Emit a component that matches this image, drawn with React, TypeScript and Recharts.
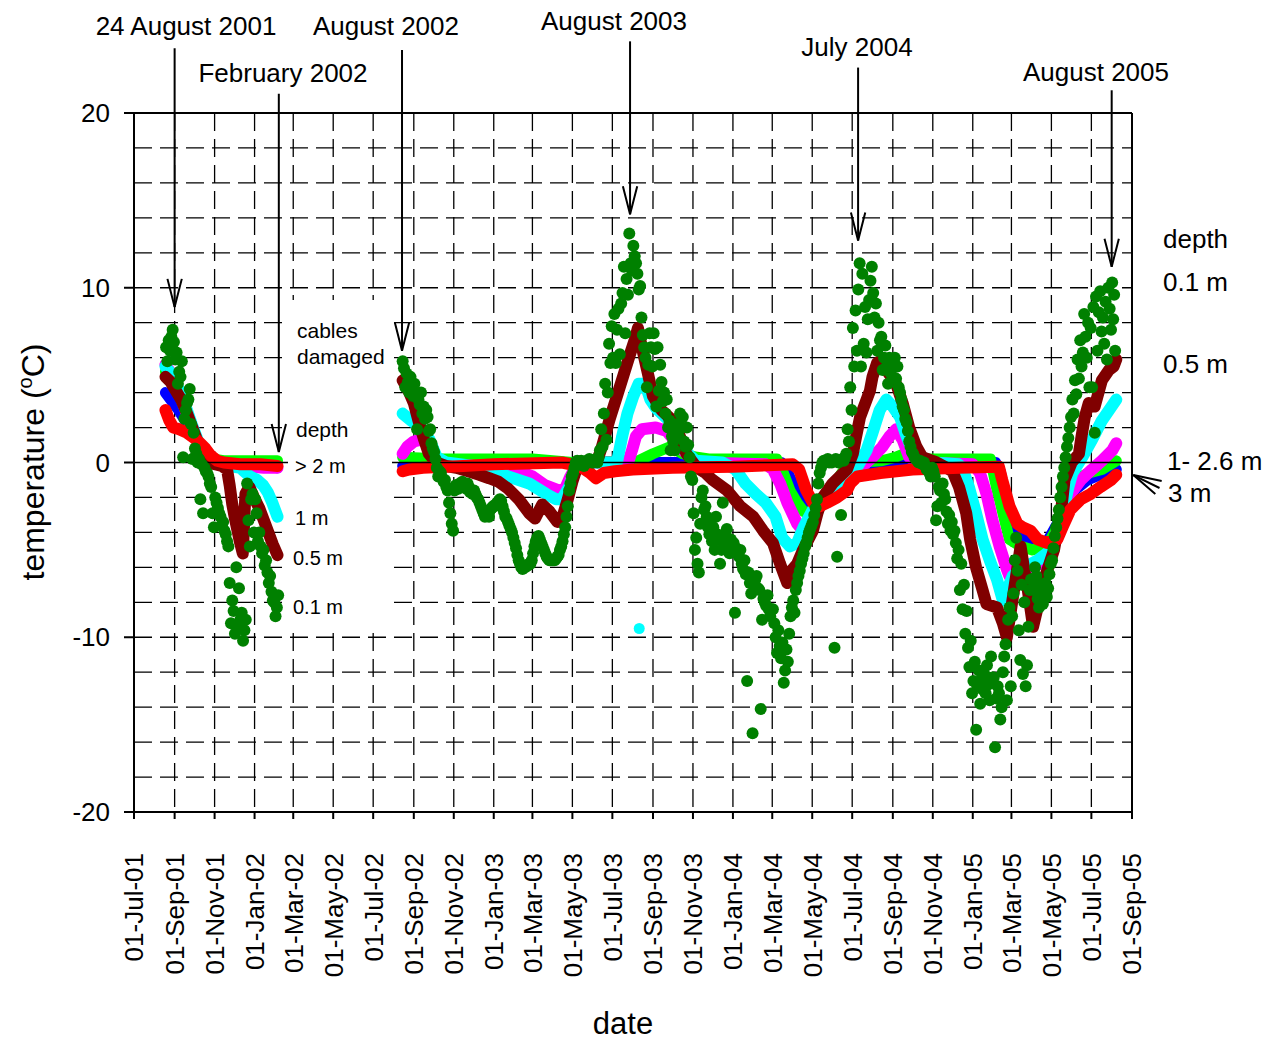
import React from "react";
import {
  ComposedChart,
  Line,
  Scatter,
  XAxis,
  YAxis,
  CartesianGrid,
  ReferenceLine,
} from "recharts";

const FONT = '"Liberation Sans", Arial, Helvetica, sans-serif';
const WIDTH = 1267;
const HEIGHT = 1041;

const ORIGIN = Date.UTC(2001, 6, 1);
const MS_PER_DAY = 86400000;
const MONTH_NAMES = ["Jan", "Feb", "Mar", "Apr", "May", "Jun", "Jul", "Aug", "Sep", "Oct", "Nov", "Dec"];

// x axis: first of every second month
const DATE_TICKS = [
  "2001-07-01", "2001-09-01", "2001-11-01", "2002-01-01", "2002-03-01", "2002-05-01",
  "2002-07-01", "2002-09-01", "2002-11-01", "2003-01-01", "2003-03-01", "2003-05-01",
  "2003-07-01", "2003-09-01", "2003-11-01", "2004-01-01", "2004-03-01", "2004-05-01",
  "2004-07-01", "2004-09-01", "2004-11-01", "2005-01-01", "2005-03-01", "2005-05-01",
  "2005-07-01", "2005-09-01",
];
const TEMP_TICKS = [-20, -10, 0, 10, 20];
const GRID_TEMPS = [-18, -16, -14, -12, -10, -8, -6, -4, -2, 2, 4, 6, 8, 10, 12, 14, 16, 18];

type Reading = [string, number];
// 0.1 m sensor: per month, readings spread evenly over the month (optional first/last day)
type MonthRun = [string, number[], number?, number?];

const DEPTH_01: MonthRun[] = [
  ["2001-08", [6.6, 5.8, 7.0, 6.4, 7.2, 7.6, 6.9], 18],
  ["2001-09", [5.9, 6.3, 4.5, 5.2, 4.9, 5.8, 0.3, 2.5, 3.0, 3.4, 3.6, 4.2, 2.2, 0.2, 1.7]],
  ["2001-10", [0.8, 0.5, 0.0, 0.2, -2.1, -0.1, -2.9, -0.3, -0.5, -0.6, -0.8, -1.2, -1.4, -2.9, -3.7]],
  ["2001-11", [-2.0, -2.3, -2.6, -2.9, -3.1, -3.6, -3.4, -3.9, -4.1, -4.5, -4.8, -6.9, -9.2, -7.9, -8.5]],
  ["2001-12", [-9.8, -6.0, -9.5, -7.2, -9.0, -8.6, -10.2, -9.6, -9.0, -1.2, -3.3, -4.8, -2.1, -1.8, -4.0]],
  ["2002-01", [-2.1, -2.9, -4.5, -4.0, -4.8, -5.2, -5.0, -5.9, -5.6, -6.3, -6.9, -6.5, -7.4, -7.9, -8.0]],
  ["2002-02", [-8.8, -8.3, -7.6], 1, 6],
  ["2002-08", [5.8, 5.4, 4.3, 5.1, 4.6, 4.0, 4.9, 4.5, 3.8], 14],
  ["2002-09", [4.5, 3.9, 1.9, 3.6, 3.3, 4.0, 2.8, 3.2, 2.5, 3.0, 2.6, 1.8, 1.9, 1.1, 0.8]],
  ["2002-10", [0.6, 0.2, -0.3, -0.8, -0.5, -0.6, -0.9, -1.1, -1.0, -1.4, -1.6, -2.3, -2.9, -3.5, -3.9]],
  ["2002-11", [-1.6, -1.3, -1.4, -1.5, -1.2, -1.3, -1.1, -1.2, -1.4, -1.5, -1.2, -1.4, -1.7, -1.6, -1.8]],
  ["2002-12", [-1.6, -1.8, -2.0, -2.1, -2.3, -2.5, -2.7, -2.9, -3.1, -3.0, -2.8, -3.1, -2.7, -2.6, -2.5]],
  ["2003-01", [-2.5, -2.4, -2.3, -2.2, -2.1, -2.2, -2.5, -2.8, -3.1, -3.2, -3.4, -3.6, -3.8, -4.0, -4.3]],
  ["2003-02", [-4.6, -4.9, -5.3, -5.6, -5.8, -6.0, -6.1, -6.0, -6.0, -5.9, -5.9, -5.8, -5.8, -5.6]],
  ["2003-03", [-5.2, -4.8, -4.5, -4.3, -4.2, -4.4, -4.6, -4.8, -5.0, -5.2, -5.4, -5.5, -5.6, -5.6, -5.6]],
  ["2003-04", [-5.6, -5.6, -5.5, -5.4, -5.3, -5.0, -4.8, -4.5, -4.1, -3.7, -3.1, -2.5, -1.6, -1.2, -0.8]],
  ["2003-05", [-0.6, -0.3, 0.0, 0.1, -0.1, 0.0, 0.1, 0.0, -0.2, 0.0, 0.1, 0.0, 0.2, 0.1, 0.0]],
  ["2003-06", [0.0, 0.1, 0.2, 0.0, 0.3, 0.7, 1.9, 0.9, 2.8, 4.5, 1.3, 4.0, 6.8, 5.7, 7.8]],
  ["2003-07", [6.0, 8.5, 5.7, 7.6, 8.8, 6.2, 9.1, 9.7, 11.2, 7.4, 10.5, 9.6, 13.1, 11.4, 11.0]],
  ["2003-08", [12.4, 11.8, 11.4, 10.8, 9.9, 10.1, 8.3, 7.3, 6.6, 6.0, 4.3, 5.6, 7.4, 6.6, 5.5]],
  ["2003-09", [7.4, 6.5, 3.2, 6.6, 4.1, 5.6, 4.6, 3.5, 4.0, 2.8, 3.6, 2.0, 2.4, 0.7, 1.5]],
  ["2003-10", [1.2, 0.7, 1.8, 2.2, 1.5, 2.8, 2.0, 2.6, 1.2, 0.9, 2.0, 1.0, 0.3, -0.8, -1.0]],
  ["2003-11", [-2.9, -5.0, -4.3, -5.8, -6.3, -3.5, -2.0, -1.6, -2.7, -2.5, -3.1, -3.7, -4.1, -3.3, -4.5]],
  ["2003-12", [-3.7, -5.0, -3.1, -4.1, -4.4, -5.8, -5.0, -2.3, -4.6, -4.1, -3.8, -4.6, -5.2, -4.4, -5.0]],
  ["2004-01", [-4.6, -8.6, -4.9, -5.2, -5.4, -5.0, -5.8, -6.1, -5.6, -6.4, -12.5, -6.3, -6.9, -7.5, -15.5]],
  ["2004-02", [-7.0, -6.7, -6.5, -7.2, -7.3, -14.1, -9.0, -7.8, -8.0, -8.2, -7.6, -8.4, -8.8, -8.4]],
  ["2004-03", [-8.4, -9.2, -10.0, -10.9, -9.6, -10.5, -11.2, -10.3, -12.6, -11.9, -10.7, -11.4, -9.8, -8.8, -8.3]],
  ["2004-04", [-7.9, -8.6, -7.3, -6.9, -6.5, -6.2, -5.8, -5.5, -5.2, -4.8, -4.6, -4.3, -4.0, -3.8, -3.6]],
  ["2004-05", [-3.4, -3.0, -2.6, -2.1, -1.2, -0.6, -0.3, 0.0, 0.1, 0.0, 0.1, 0.2, 0.0, 0.1, 0.0]],
  ["2004-06", [0.1, -10.6, 0.2, -5.4, 0.0, 0.1, -3.0, 0.2, 0.1, 0.3, 0.5, 1.9, 1.2, 4.3, 3.0]],
  ["2004-07", [7.7, 5.5, 8.7, 6.4, 9.9, 11.4, 5.5, 10.8, 6.8, 8.9, 6.3, 8.2, 9.3, 10.4, 11.2]],
  ["2004-08", [9.7, 8.3, 9.1, 6.4, 8.0, 7.0, 7.2, 5.3, 6.0, 6.7, 5.5, 4.5, 6.0, 5.1, 5.5]],
  ["2004-09", [5.8, 6.0, 4.8, 5.5, 4.3, 4.0, 3.6, 3.2, 3.0, 2.5, 2.3, 1.8, 1.2, 0.9, 0.6]],
  ["2004-10", [0.5, 0.3, 0.2, 0.1, 0.0, 0.1, 0.0, -0.1, 0.0, -0.2, -0.4, -0.3, -0.6, -0.8, -0.3]],
  ["2004-11", [-0.5, -0.8, -3.3, -2.5, -1.4, -1.6, -2.3, -1.2, -1.8, -2.1, -2.8, -3.5, -3.0, -3.9, -3.4]],
  ["2004-12", [-4.1, -3.9, -4.6, -5.5, -5.0, -7.3, -5.8, -8.4, -7.0, -9.8, -8.5, -10.6, -11.7, -10.2, -13.2]],
  ["2005-01", [-12.5, -11.4, -15.3, -12.8, -11.9, -13.8, -12.4, -13.0, -12.1, -13.2, -11.6, -12.7, -13.6, -11.1, -12.3]],
  ["2005-02", [-12.3, -16.3, -13.5, -12.8, -13.2, -14.7, -14.0, -12.0, -11.1, -10.4, -13.6, -9.0, -8.3, -12.8]],
  ["2005-03", [-8.8, -7.5, -5.6, -4.3, -6.2, -9.6, -11.3, -7.0, -12.1, -8.0, -12.8, -11.6, -9.4, -7.3, -6.7]],
  ["2005-04", [-6.7, -7.3, -6.0, -6.5, -7.8, -8.3, -7.0, -7.6, -8.1, -7.5, -6.9, -7.7, -7.2, -6.4, -5.8]],
  ["2005-05", [-5.6, -4.9, -4.2, -3.7, -3.2, -2.7, -2.0, -1.4, -0.8, -0.3, 0.3, 0.9, 1.4, 2.0, 2.6]],
  ["2005-06", [3.6, 2.8, 4.7, 3.9, 5.9, 4.8, 7.0, 5.5, 6.3, 8.5, 7.2, 6.0, 8.0, 4.3, 7.7]],
  ["2005-07", [4.3, 8.9, 1.7, 9.5, 6.4, 8.6, 9.8, 7.5, 8.3, 6.8, 9.2, 5.9, 10.0, 8.8, 7.6]],
  ["2005-08", [10.3, 8.2, 9.6, 6.4], 1, 6],
];

const DEPTH_05_2001: Reading[] = [
  ["2001-08-18", 4.9], ["2001-08-26", 4.6], ["2001-09-03", 4.1], ["2001-09-11", 3.6], ["2001-09-19", 2.9],
  ["2001-09-27", 2.1], ["2001-10-05", 1.3], ["2001-10-12", 0.5], ["2001-10-20", 0.0], ["2001-11-01", -0.1],
  ["2001-11-12", -0.2], ["2001-11-20", -0.4], ["2001-11-24", -1.3], ["2001-11-28", -2.4], ["2001-12-02", -3.2],
  ["2001-12-06", -3.9], ["2001-12-10", -4.6], ["2001-12-14", -5.2], ["2001-12-18", -1.8], ["2001-12-24", -1.4],
  ["2001-12-31", -2.0], ["2002-01-08", -2.6], ["2002-01-15", -3.3], ["2002-01-22", -4.0], ["2002-01-29", -4.7],
  ["2002-02-05", -5.3],
];
const DEPTH_05_2002: Reading[] = [
  ["2002-08-15", 4.7], ["2002-08-24", 4.1], ["2002-09-01", 3.4], ["2002-09-08", 2.4], ["2002-09-16", 1.4],
  ["2002-09-24", 0.5], ["2002-10-05", 0.0], ["2002-10-20", -0.2], ["2002-11-05", -0.3], ["2002-11-23", -0.5],
  ["2002-12-10", -0.7], ["2002-12-25", -0.9], ["2003-01-08", -1.1], ["2003-01-23", -1.5], ["2003-02-08", -2.1],
  ["2003-02-24", -2.9], ["2003-03-05", -3.2], ["2003-03-16", -2.4], ["2003-03-27", -2.8], ["2003-04-08", -3.4],
  ["2003-04-16", -3.1], ["2003-04-24", -2.1], ["2003-05-01", -1.1], ["2003-05-08", -0.3], ["2003-05-20", 0.0],
  ["2003-06-08", 0.1], ["2003-06-15", 0.9], ["2003-06-27", 2.5], ["2003-07-08", 3.8], ["2003-07-18", 5.0],
  ["2003-07-28", 6.2], ["2003-08-04", 7.0], ["2003-08-09", 7.7], ["2003-08-15", 6.6], ["2003-08-23", 5.3],
  ["2003-09-01", 3.8], ["2003-09-14", 3.0], ["2003-10-01", 2.4], ["2003-10-12", 1.5], ["2003-10-22", 0.5],
  ["2003-11-07", -0.3], ["2003-11-20", -0.6], ["2003-12-01", -1.0], ["2003-12-23", -1.6], ["2004-01-12", -2.5],
  ["2004-02-01", -3.1], ["2004-02-16", -3.9], ["2004-03-02", -4.6], ["2004-03-13", -5.8], ["2004-03-24", -6.9],
  ["2004-04-01", -6.1], ["2004-04-08", -5.8], ["2004-04-17", -5.0], ["2004-05-02", -3.9], ["2004-05-09", -2.9],
  ["2004-05-17", -2.0], ["2004-06-01", -1.2], ["2004-06-23", -0.4], ["2004-07-02", 0.5], ["2004-07-06", 1.3],
  ["2004-07-13", 2.6], ["2004-07-21", 3.4], ["2004-07-28", 4.1], ["2004-08-01", 4.9], ["2004-08-08", 5.7],
  ["2004-08-16", 5.9], ["2004-08-22", 5.3], ["2004-09-06", 4.5], ["2004-09-16", 3.4], ["2004-09-26", 2.0],
  ["2004-10-07", 0.9], ["2004-10-16", 0.3], ["2004-11-07", 0.0], ["2004-11-22", -0.3], ["2004-12-01", -0.5],
  ["2004-12-11", -1.4], ["2004-12-22", -2.9], ["2004-12-28", -4.4], ["2005-01-06", -6.0], ["2005-01-16", -7.3],
  ["2005-01-22", -8.1], ["2005-02-07", -8.3], ["2005-02-16", -9.2], ["2005-02-22", -10.0], ["2005-03-15", -4.8],
  ["2005-03-20", -6.0], ["2005-03-26", -7.3], ["2005-03-31", -8.6], ["2005-04-03", -9.4], ["2005-04-20", -6.7],
  ["2005-05-05", -5.0], ["2005-05-16", -2.7], ["2005-05-21", -1.0], ["2005-06-01", 0.0], ["2005-06-12", 0.5],
  ["2005-06-16", 1.5], ["2005-06-21", 2.6], ["2005-06-27", 3.4], ["2005-07-06", 3.2], ["2005-07-17", 4.7],
  ["2005-07-28", 5.3], ["2005-08-04", 5.5], ["2005-08-08", 5.9],
];

const DEPTH_1_2001: Reading[] = [
  ["2001-08-18", 5.5], ["2001-08-28", 5.0], ["2001-09-07", 4.2], ["2001-09-17", 3.3], ["2001-09-27", 2.2],
  ["2001-10-07", 1.2], ["2001-10-17", 0.5], ["2001-10-28", 0.1], ["2001-11-10", -0.1], ["2001-11-25", -0.2],
  ["2001-12-10", -0.3], ["2001-12-25", -0.8], ["2002-01-05", -1.0], ["2002-01-14", -1.3], ["2002-01-21", -1.7],
  ["2002-01-28", -2.3], ["2002-02-05", -3.1],
];
const DEPTH_1_2002: Reading[] = [
  ["2002-08-15", 2.8], ["2002-08-28", 2.4], ["2002-09-12", 2.0], ["2002-09-25", 1.3], ["2002-10-06", 0.3],
  ["2002-10-20", 0.0], ["2002-11-10", -0.1], ["2002-12-01", -0.2], ["2002-12-25", -0.4], ["2003-01-23", -0.8],
  ["2003-02-24", -1.2], ["2003-03-22", -1.8], ["2003-04-06", -2.1], ["2003-04-15", -2.1], ["2003-04-26", -1.4],
  ["2003-05-06", -0.4], ["2003-05-20", 0.0], ["2003-07-08", 0.0], ["2003-07-16", 1.5], ["2003-07-24", 2.8],
  ["2003-08-02", 3.8], ["2003-08-10", 4.5], ["2003-08-20", 4.5], ["2003-08-28", 3.6], ["2003-09-06", 3.1],
  ["2003-09-20", 2.6], ["2003-10-01", 2.2], ["2003-10-10", 1.3], ["2003-10-22", 0.6], ["2003-11-05", 0.1],
  ["2003-12-16", 0.0], ["2004-01-05", -0.4], ["2004-01-20", -1.2], ["2004-02-05", -1.8], ["2004-02-20", -2.3],
  ["2004-03-06", -3.1], ["2004-03-16", -4.3], ["2004-03-28", -4.8], ["2004-04-08", -4.6], ["2004-04-18", -3.7],
  ["2004-05-02", -2.7], ["2004-05-17", -2.0], ["2004-06-13", -1.6], ["2004-06-28", -0.8], ["2004-07-08", -0.3],
  ["2004-07-23", 0.7], ["2004-08-01", 1.7], ["2004-08-12", 3.0], ["2004-08-22", 3.6], ["2004-09-01", 3.2],
  ["2004-09-12", 2.6], ["2004-09-22", 1.5], ["2004-10-01", 0.7], ["2004-10-16", 0.3], ["2004-11-01", 0.0],
  ["2004-12-10", -0.1], ["2004-12-16", -0.3], ["2004-12-26", -1.4], ["2005-01-06", -2.9], ["2005-01-16", -4.4],
  ["2005-01-27", -5.6], ["2005-02-07", -6.7], ["2005-02-16", -7.9], ["2005-03-03", -6.5], ["2005-03-15", -6.1],
  ["2005-04-10", -5.6], ["2005-05-01", -5.0], ["2005-05-16", -3.3], ["2005-05-27", -1.4], ["2005-06-02", -0.6],
  ["2005-06-17", 0.3], ["2005-07-02", 1.3], ["2005-07-17", 2.4], ["2005-07-28", 3.0], ["2005-08-08", 3.6],
];
const DEPTH_1_STRAY: Reading[] = [["2003-08-11", -9.5]];

const DEPTH_15_2001: Reading[] = [
  ["2001-08-18", 5.6], ["2001-08-28", 5.0], ["2001-09-07", 4.1], ["2001-09-17", 3.1], ["2001-09-27", 2.0],
  ["2001-10-07", 1.1], ["2001-10-17", 0.4], ["2001-10-28", 0.0], ["2001-11-15", -0.1], ["2001-12-15", -0.2],
  ["2002-01-15", -0.3], ["2002-02-05", -0.3],
];
const DEPTH_15_2002: Reading[] = [
  ["2002-08-15", 0.5], ["2002-08-22", 0.9], ["2002-09-01", 1.2], ["2002-09-12", 1.3], ["2002-09-22", 1.1],
  ["2002-09-30", 0.3], ["2002-10-10", 0.0], ["2002-11-01", -0.1], ["2002-12-01", -0.2], ["2003-01-15", -0.3],
  ["2003-02-15", -0.6], ["2003-03-01", -0.8], ["2003-03-20", -1.3], ["2003-04-10", -1.6], ["2003-04-20", -1.5],
  ["2003-04-28", -0.8], ["2003-05-08", -0.1], ["2003-05-20", 0.0], ["2003-07-25", 0.0], ["2003-07-31", 0.7],
  ["2003-08-06", 1.5], ["2003-08-15", 1.9], ["2003-09-05", 2.0], ["2003-09-22", 1.8], ["2003-10-07", 1.1],
  ["2003-10-27", 0.3], ["2003-11-10", 0.0], ["2004-02-20", -0.1], ["2004-03-02", -0.4], ["2004-03-13", -1.2],
  ["2004-03-24", -2.3], ["2004-04-08", -3.5], ["2004-04-17", -3.9], ["2004-04-29", -3.5], ["2004-05-13", -2.3],
  ["2004-06-01", -1.8], ["2004-06-23", -1.0], ["2004-07-14", -0.3], ["2004-08-01", 0.3], ["2004-08-16", 0.9],
  ["2004-08-27", 1.5], ["2004-09-06", 1.9], ["2004-09-16", 1.3], ["2004-09-26", 0.3], ["2004-10-10", 0.0],
  ["2005-01-01", -0.1], ["2005-01-12", -0.6], ["2005-01-22", -1.8], ["2005-01-31", -3.3], ["2005-02-11", -4.8],
  ["2005-02-22", -6.1], ["2005-02-26", -6.5], ["2005-03-15", -5.9], ["2005-04-02", -6.0], ["2005-04-24", -5.6],
  ["2005-05-16", -3.3], ["2005-05-30", -1.8], ["2005-06-15", -1.0], ["2005-07-02", -0.4], ["2005-07-17", 0.1],
  ["2005-08-02", 0.7], ["2005-08-08", 1.1],
];

const DEPTH_2_2001: Reading[] = [
  ["2001-08-18", 5.2], ["2001-08-28", 4.8], ["2001-09-07", 4.0], ["2001-09-17", 3.0], ["2001-09-27", 2.0],
  ["2001-10-07", 1.2], ["2001-10-17", 0.5], ["2001-10-28", 0.2], ["2001-11-15", 0.1], ["2002-01-01", 0.1],
  ["2002-02-05", 0.1],
];
const DEPTH_2_2002: Reading[] = [
  ["2002-08-15", 0.3], ["2002-10-15", 0.2], ["2003-03-01", 0.2], ["2003-04-01", 0.1], ["2003-05-01", 0.0],
  ["2003-08-10", 0.1], ["2003-09-01", 0.5], ["2003-09-27", 0.9], ["2003-10-16", 0.5], ["2003-11-07", 0.3],
  ["2003-11-25", 0.2], ["2004-03-08", 0.2], ["2004-03-18", -0.6], ["2004-03-28", -1.6], ["2004-04-08", -2.3],
  ["2004-04-18", -2.8], ["2004-04-26", -2.9], ["2004-05-05", -2.5], ["2004-05-15", -2.2], ["2004-05-28", -1.6],
  ["2004-06-15", -0.6], ["2004-07-01", 0.0], ["2004-08-15", 0.1], ["2004-09-05", 0.3], ["2004-09-18", 0.5],
  ["2004-10-01", 0.3], ["2004-10-15", 0.2], ["2005-01-28", 0.2], ["2005-02-06", -1.4], ["2005-02-16", -2.9],
  ["2005-02-26", -4.4], ["2005-03-15", -4.8], ["2005-04-02", -5.0], ["2005-04-24", -4.8], ["2005-05-10", -3.7],
  ["2005-05-20", -1.8], ["2005-06-05", -1.0], ["2005-06-27", -0.6], ["2005-07-17", -0.4], ["2005-08-08", 0.1],
];

const DEPTH_26_2001: Reading[] = [
  ["2001-08-18", 4.0], ["2001-08-28", 3.5], ["2001-09-07", 3.0], ["2001-09-17", 2.4], ["2001-09-27", 1.8],
  ["2001-10-07", 1.1], ["2001-10-17", 0.5], ["2001-10-28", 0.1], ["2001-11-15", 0.0], ["2002-01-01", -0.1],
  ["2002-02-05", -0.3],
];
const DEPTH_26_2002: Reading[] = [
  ["2002-08-15", -0.2], ["2002-10-01", -0.1], ["2003-03-01", 0.0], ["2004-03-15", 0.0], ["2004-03-25", -0.6],
  ["2004-04-05", -1.5], ["2004-04-15", -2.3], ["2004-04-25", -2.6], ["2004-05-05", -2.4], ["2004-05-15", -2.1],
  ["2004-06-01", -1.5], ["2004-06-15", -1.0], ["2004-07-01", -0.5], ["2004-07-15", -0.2], ["2004-09-01", 0.0],
  ["2005-02-05", 0.0], ["2005-02-12", -0.5], ["2005-02-20", -2.0], ["2005-02-28", -3.5], ["2005-03-15", -4.2],
  ["2005-04-05", -4.6], ["2005-04-25", -4.5], ["2005-05-10", -3.5], ["2005-05-20", -2.5], ["2005-06-05", -1.6],
  ["2005-06-25", -1.0], ["2005-07-15", -0.7], ["2005-08-08", -0.4],
];

const DEPTH_3_2001: Reading[] = [
  ["2001-08-18", 3.0], ["2001-08-24", 2.4], ["2001-08-30", 2.0], ["2001-09-08", 1.9], ["2001-09-20", 1.7],
  ["2001-10-01", 1.4], ["2001-10-10", 1.1], ["2001-10-18", 0.8], ["2001-10-26", 0.4], ["2001-11-05", 0.1],
  ["2001-11-15", 0.0], ["2001-12-10", -0.1], ["2002-01-10", -0.1], ["2002-02-05", -0.2],
];
const DEPTH_3_2002: Reading[] = [
  ["2002-08-15", -0.5], ["2002-08-25", -0.4], ["2002-09-15", -0.3], ["2002-11-15", -0.2], ["2003-01-01", -0.1],
  ["2003-04-15", 0.0], ["2003-05-12", -0.2], ["2003-05-28", -0.6], ["2003-06-06", -0.9], ["2003-06-18", -0.6],
  ["2003-07-05", -0.5], ["2003-08-01", -0.4], ["2003-10-01", -0.3], ["2004-01-01", -0.25], ["2004-04-01", -0.1],
  ["2004-04-11", -0.4], ["2004-04-22", -1.6], ["2004-05-02", -2.3], ["2004-05-13", -2.5], ["2004-05-24", -2.3],
  ["2004-06-08", -2.0], ["2004-06-23", -1.6], ["2004-06-28", -1.2], ["2004-07-09", -0.8], ["2004-08-13", -0.6],
  ["2004-10-01", -0.4], ["2004-12-11", -0.3], ["2005-02-10", -0.25], ["2005-02-15", -1.0], ["2005-02-26", -2.5],
  ["2005-03-10", -3.5], ["2005-03-18", -3.7], ["2005-03-30", -3.9], ["2005-04-10", -4.4], ["2005-04-24", -4.6],
  ["2005-05-10", -4.4], ["2005-05-18", -3.7], ["2005-05-30", -2.7], ["2005-06-15", -2.1], ["2005-06-30", -1.8],
  ["2005-07-15", -1.4], ["2005-07-31", -1.0], ["2005-08-08", -0.7],
];

// annotation arrows, in date / degree units
const CALLOUTS = [
  { at: "2001-09-01", from: 23.7, to: 8.9 },
  { at: "2002-02-07", from: 21.1, to: 0.6 },
  { at: "2002-08-14", from: 23.6, to: 6.4 },
  { at: "2003-07-28", from: 24.1, to: 14.2 },
  { at: "2004-07-10", from: 22.6, to: 12.7 },
  { at: "2005-08-01", from: 21.3, to: 11.2 },
];

const LABELS = [
  { text: "24 August 2001", x: 186, y: 35, size: 26, anchor: "middle" },
  { text: "August 2002", x: 386, y: 35, size: 26, anchor: "middle" },
  { text: "February 2002", x: 283, y: 82, size: 26, anchor: "middle" },
  { text: "August 2003", x: 614, y: 30, size: 26, anchor: "middle" },
  { text: "July 2004", x: 857, y: 56, size: 26, anchor: "middle" },
  { text: "August 2005", x: 1096, y: 81, size: 26, anchor: "middle" },
  { text: "depth", x: 1163, y: 248, size: 26, anchor: "start" },
  { text: "0.1 m", x: 1163, y: 291, size: 26, anchor: "start" },
  { text: "0.5 m", x: 1163, y: 373, size: 26, anchor: "start" },
  { text: "1- 2.6 m", x: 1167, y: 470, size: 26, anchor: "start" },
  { text: "3 m", x: 1168, y: 502, size: 26, anchor: "start" },
  { text: "cables", x: 297, y: 338, size: 21, anchor: "start" },
  { text: "damaged", x: 297, y: 364, size: 21, anchor: "start" },
  { text: "depth", x: 296, y: 437, size: 21, anchor: "start" },
  { text: "> 2 m", x: 295, y: 473, size: 20, anchor: "start" },
  { text: "1 m", x: 295, y: 525, size: 20, anchor: "start" },
  { text: "0.5 m", x: 293, y: 565, size: 20, anchor: "start" },
  { text: "0.1 m", x: 293, y: 614, size: 20, anchor: "start" },
];

function dayOf(date: string) {
  const [y, m, d] = date.split("-").map(Number);
  return (Date.UTC(y, m - 1, d || 1) - ORIGIN) / MS_PER_DAY;
}

const END_DAY = dayOf("2005-09-01");

function formatTick(day: number) {
  const d = new Date(ORIGIN + Math.round(day) * MS_PER_DAY);
  return `01-${MONTH_NAMES[d.getUTCMonth()]}-${String(d.getUTCFullYear()).slice(2)}`;
}

function toLine(...segments: Reading[][]) {
  const out: { x: number; y: number | null }[] = [];
  segments.forEach((seg, i) => {
    if (i > 0) {
      const prev = segments[i - 1];
      out.push({ x: (dayOf(prev[prev.length - 1][0]) + dayOf(seg[0][0])) / 2, y: null });
    }
    seg.forEach(([d, v]) => out.push({ x: dayOf(d), y: v }));
  });
  return out;
}

function spreadMonths(runs: MonthRun[]) {
  const pts: { x: number; y: number }[] = [];
  runs.forEach(([month, temps, from = 1, to]) => {
    const [y, m] = month.split("-").map(Number);
    const last = to ?? new Date(Date.UTC(y, m, 0)).getUTCDate();
    const base = dayOf(`${month}-01`);
    const span = last - from + 1;
    temps.forEach((t, k) => pts.push({ x: base + from - 1 + ((k + 0.5) * span) / temps.length, y: t }));
  });
  return pts;
}

const shallowPoints = spreadMonths(DEPTH_01);
const strayPoints = toLine(DEPTH_1_STRAY);

function DateTick({ x, y, payload }: any) {
  return (
    <text
      x={x}
      y={y}
      transform={`rotate(-90 ${x} ${y})`}
      textAnchor="end"
      dy="0.36em"
      fontSize={26}
      fontFamily={FONT}
      fill="#000"
    >
      {formatTick(payload.value)}
    </text>
  );
}

function ArrowShape({ x1, y1, x2, y2 }: any) {
  const ang = Math.atan2(y2 - y1, x2 - x1);
  const len = 29;
  const spread = 0.25;
  const a = ang + Math.PI - spread;
  const b = ang + Math.PI + spread;
  return (
    <g>
      <line x1={x1} y1={y1} x2={x2} y2={y2} stroke="#000" strokeWidth={2} />
      <polyline
        points={`${x2 + len * Math.cos(a)},${y2 + len * Math.sin(a)} ${x2},${y2} ${x2 + len * Math.cos(b)},${y2 + len * Math.sin(b)}`}
        fill="none"
        stroke="#000"
        strokeWidth={2}
      />
    </g>
  );
}

function dot(color: string, r: number) {
  return (p: any) => <circle cx={p.cx} cy={p.cy} r={r} fill={color} />;
}

const lineProps = {
  type: "linear" as const,
  dataKey: "y",
  dot: false,
  activeDot: false,
  isAnimationActive: false,
  strokeLinejoin: "round" as const,
  strokeLinecap: "round" as const,
};

export default function App() {
  return (
    <div style={{ position: "relative", width: WIDTH, height: HEIGHT, background: "#fff" }}>
      <style>{"body{margin:0;background:#fff}"}</style>
      <ComposedChart width={WIDTH} height={HEIGHT} margin={{ top: 113, right: 135, bottom: 59, left: 74 }}>
        <CartesianGrid stroke="#000" strokeWidth={1.3} strokeDasharray="18 8" horizontalValues={GRID_TEMPS} />
        <XAxis
          type="number"
          dataKey="x"
          domain={[0, END_DAY]}
          ticks={DATE_TICKS.map(dayOf)}
          allowDataOverflow
          interval={0}
          height={170}
          tickSize={7}
          tickMargin={34}
          tick={DateTick}
          axisLine={{ stroke: "#000", strokeWidth: 2 }}
          tickLine={{ stroke: "#000", strokeWidth: 2 }}
        />
        <YAxis
          type="number"
          dataKey="y"
          domain={[-20, 20]}
          ticks={TEMP_TICKS}
          allowDataOverflow
          interval={0}
          width={60}
          tickSize={10}
          tickMargin={14}
          tick={{ fill: "#000", fontSize: 26, fontFamily: FONT }}
          axisLine={{ stroke: "#000", strokeWidth: 2 }}
          tickLine={{ stroke: "#000", strokeWidth: 2 }}
        />

        <Line {...lineProps} data={toLine(DEPTH_26_2001, DEPTH_26_2002)} stroke="#0000ff" strokeWidth={11} />
        <Line {...lineProps} data={toLine(DEPTH_2_2001, DEPTH_2_2002)} stroke="#00ff00" strokeWidth={11} />
        <Line {...lineProps} data={toLine(DEPTH_15_2001, DEPTH_15_2002)} stroke="#ff00ff" strokeWidth={12} />
        <Line {...lineProps} data={toLine(DEPTH_1_2001, DEPTH_1_2002)} stroke="#00ffff" strokeWidth={12} />
        <Line {...lineProps} data={toLine(DEPTH_05_2001, DEPTH_05_2002)} stroke="#800000" strokeWidth={12} />
        <Scatter data={strayPoints} fill="#00ffff" shape={dot("#00ffff", 5.5)} isAnimationActive={false} />
        <Scatter data={shallowPoints} fill="#008000" shape={dot("#008000", 6)} isAnimationActive={false} />
        <Line {...lineProps} data={toLine(DEPTH_3_2001, DEPTH_3_2002)} stroke="#ff0000" strokeWidth={12} />

        <ReferenceLine y={0} stroke="#000" strokeWidth={1.5} />
        <ReferenceLine y={20} stroke="#000" strokeWidth={2} />
        <ReferenceLine x={END_DAY} stroke="#000" strokeWidth={2} />
        {CALLOUTS.map((c) => (
          <ReferenceLine
            key={c.at}
            ifOverflow="visible"
            segment={[{ x: dayOf(c.at), y: c.from }, { x: dayOf(c.at), y: c.to }]}
            shape={ArrowShape}
          />
        ))}
        <ReferenceLine
          ifOverflow="visible"
          segment={[{ x: dayOf("2005-10-13"), y: -1.46 }, { x: dayOf("2005-09-03"), y: -0.72 }]}
          shape={ArrowShape}
        />
      </ComposedChart>

      <svg
        width={WIDTH}
        height={HEIGHT}
        style={{ position: "absolute", left: 0, top: 0, pointerEvents: "none" }}
        fontFamily={FONT}
        fill="#000"
      >
        {/* blank panel behind the in-plot legend */}
        <rect x={288} y={300} width={104} height={327} fill="#fff" />
        {LABELS.map((l, i) => (
          <text key={i} x={l.x} y={l.y} fontSize={l.size} textAnchor={l.anchor as any}>
            {l.text}
          </text>
        ))}
        <text transform="translate(44 462) rotate(-90)" textAnchor="middle" fontSize={32}>
          temperature (<tspan fontSize={20} dy={-12}>o</tspan>
          <tspan dy={12}>C)</tspan>
        </text>
        <text x={623} y={1034} textAnchor="middle" fontSize={31}>
          date
        </text>
      </svg>
    </div>
  );
}
